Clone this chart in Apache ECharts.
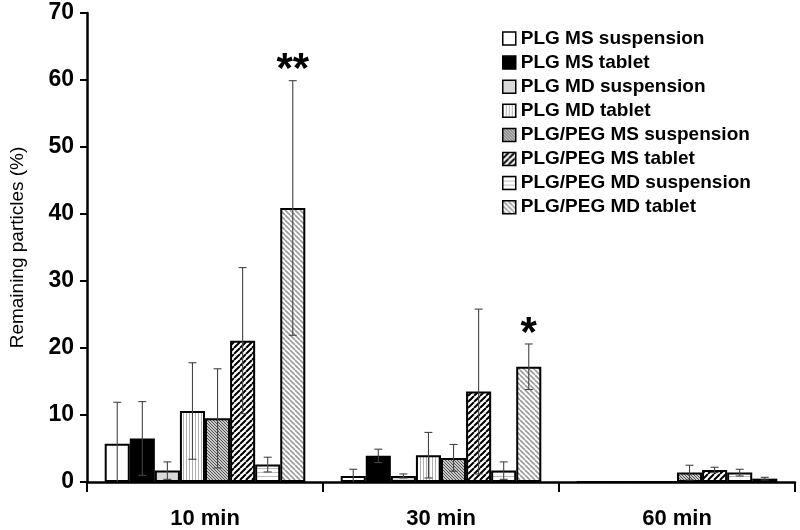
<!DOCTYPE html>
<html>
<head>
<meta charset="utf-8">
<script src="https://cdn.jsdelivr.net/npm/echarts@6/dist/echarts.min.js"></script>
<style>html,body{margin:0;padding:0;background:#fff}#c{width:800px;height:530px}</style>
</head>
<body>
<div id="c"></div>
<script>
const categories = ['10 min', '30 min', '60 min'];
const seriesNames = ['PLG MS suspension', 'PLG MS tablet', 'PLG MD suspension', 'PLG MD tablet',
  'PLG/PEG MS suspension', 'PLG/PEG MS tablet', 'PLG/PEG MD suspension', 'PLG/PEG MD tablet'];
const plgMsSusp = [5.7, 0.9, 0];
const plgMsTab = [6.5, 3.9, 0];
const plgMdSusp = [1.7, 0.9, 0];
const plgMdTab = [10.6, 4.0, 0];
const pegMsSusp = [9.5, 3.6, 1.4];
const pegMsTab = [21.1, 13.5, 1.8];
const pegMdSusp = [2.6, 1.7, 1.4];
const pegMdTab = [40.9, 17.2, 0.5];
const plgMsSuspErr = [6.2, 1.0, 0];
const plgMsTabErr = [5.5, 1.0, 0];
const plgMdSuspErr = [1.3, 0.3, 0];
const plgMdTabErr = [7.2, 3.4, 0];
const pegMsSuspErr = [7.4, 2.0, 1.1];
const pegMsTabErr = [10.9, 12.3, 0.4];
const pegMdSuspErr = [1.1, 1.3, 0.5];
const pegMdTabErr = [19.0, 3.4, 0.2];
const significance = ['**', '*', ''];
const yTicks = [0, 10, 20, 30, 40, 50, 60, 70];

const values = [plgMsSusp, plgMsTab, plgMdSusp, plgMdTab, pegMsSusp, pegMsTab, pegMdSusp, pegMdTab];
const errors = [plgMsSuspErr, plgMsTabErr, plgMdSuspErr, plgMdTabErr, pegMsSuspErr, pegMsTabErr, pegMdSuspErr, pegMdTabErr];

function mk(w, h, draw) {
  const c = document.createElement('canvas');
  c.width = w; c.height = h;
  const g = c.getContext('2d');
  g.fillStyle = '#fff'; g.fillRect(0, 0, w, h);
  draw(g, w, h);
  return { image: c, repeat: 'repeat' };
}
function diag(size, color, lw, dir, bg) {
  return mk(size, size, (g, w, h) => {
    if (bg) { g.fillStyle = bg; g.fillRect(0, 0, w, h); }
    g.strokeStyle = color; g.lineWidth = lw;
    g.beginPath();
    for (let k = -1; k <= 1; k++) {
      if (dir === '/') { g.moveTo(k * w, h); g.lineTo(k * w + w, 0); }
      else { g.moveTo(k * w, 0); g.lineTo(k * w + w, h); }
    }
    g.stroke();
  });
}
const fills = [
  '#ffffff',
  '#000000',
  '#d9d9d9',
  mk(3, 1, (g) => { g.fillStyle = '#b0b0b0'; g.fillRect(0, 0, 1, 1); }),
  diag(3, '#555', 1, '\\', '#c8c8c8'),
  diag(6, '#000', 2, '/'),
  mk(1, 4, (g) => { g.fillStyle = '#bdbdbd'; g.fillRect(0, 0, 1, 1); }),
  diag(5, '#9a9a9a', 1.6, '\\')
];

const FONT = '"Liberation Sans", Arial, sans-serif';
const catGapPct = 15;
const barSeries = seriesNames.map((name, i) => ({
  name, type: 'bar', data: values[i],
  barGap: '0%', barCategoryGap: catGapPct + '%',
  itemStyle: { color: fills[i], borderColor: '#000', borderWidth: 2 },
  z: 2
}));

const errData = [];
values.forEach((arr, si) => arr.forEach((v, ci) => {
  errData.push([ci, si, v, errors[si][ci]]);
}));

const errSeries = {
  type: 'custom', name: 'err', z: 5,
  data: errData,
  renderItem: function (params, api) {
    const ci = api.value(0), si = api.value(1), v = api.value(2), e = api.value(3);
    if (!e) return null;
    const catW = api.size([1, 0])[0];
    const bw = catW * (1 - catGapPct / 100) / 8;
    const center = api.coord([ci, 0]);
    const x = center[0] + (si - 3.5) * bw;
    const yHi = api.coord([ci, v + e])[1];
    const yLo = api.coord([ci, Math.max(0, v - e)])[1];
    const cap = 4;
    const st = { stroke: '#444', lineWidth: 1.1 };
    const children = [
      { type: 'line', shape: { x1: x, y1: yHi, x2: x, y2: yLo }, style: st },
      { type: 'line', shape: { x1: x - cap, y1: yHi, x2: x + cap, y2: yHi }, style: st }
    ];
    if (v - e > 0) children.push({ type: 'line', shape: { x1: x - cap, y1: yLo, x2: x + cap, y2: yLo }, style: st });
    if (si === 7 && significance[ci]) {
      children.push({ type: 'text', style: { x: x, y: yHi + 11, text: significance[ci], textAlign: 'center', textVerticalAlign: 'bottom',
        font: 'bold 42px ' + FONT, fill: '#000' } });
    }
    return { type: 'group', children };
  },
  encode: { x: 0, y: 2 },
  silent: true
};

const chart = echarts.init(document.getElementById('c'), null, { renderer: 'canvas' });
chart.setOption({
  backgroundColor: '#fff',
  animation: false,
  grid: { left: 85, right: 5, top: 13, bottom: 46, containLabel: false },
  legend: {
    data: seriesNames.map(n => ({ name: n, icon: 'rect' })), orient: 'vertical', left: 497, top: 24,
    itemWidth: 13, itemHeight: 13, itemGap: 5.1,
    textStyle: { fontFamily: FONT, fontWeight: 'bold', fontSize: 19, lineHeight: 19, color: '#000' },
    itemStyle: { borderColor: '#000', borderWidth: 1.5 }
  },
  xAxis: {
    type: 'category', data: categories,
    axisLine: { lineStyle: { color: '#000', width: 2.5 } },
    axisTick: { show: true, length: 10, inside: false, lineStyle: { color: '#000', width: 2 } },
    axisLabel: { margin: 26, fontFamily: FONT, fontWeight: 'bold', fontSize: 22, color: '#000' }
  },
  yAxis: {
    type: 'value', min: 0, max: 70, interval: 10,
    name: 'Remaining particles (%)', nameLocation: 'middle', nameGap: 60,
    nameTextStyle: { fontFamily: FONT, fontSize: 19, color: '#000' },
    axisLine: { show: true, lineStyle: { color: '#000', width: 2.5 } },
    axisTick: { show: true, length: 7, lineStyle: { color: '#000', width: 2 } },
    splitLine: { show: false },
    axisLabel: { margin: 13, fontFamily: FONT, fontWeight: 'bold', fontSize: 23, color: '#000',
      formatter: (v) => yTicks.includes(v) ? String(v) : '' }
  },
  series: barSeries.concat([errSeries])
});
</script>
</body>
</html>
